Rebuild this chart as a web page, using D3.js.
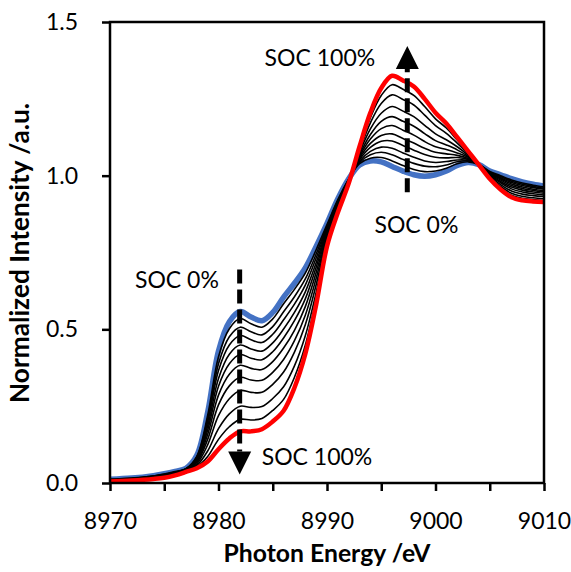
<!DOCTYPE html>
<html><head><meta charset="utf-8">
<script src="https://cdn.jsdelivr.net/npm/d3@7"></script>
<style>body{margin:0;background:#fff}</style>
</head><body>
<svg id="chart" width="571" height="572"></svg>
<script>
// ---- data ----
const energy = [8970,8972,8974,8975,8976,8977,8978,8979,8980,8981,8982,8983,8984,8985,8986,8987,8988,8989,8990,8991,8992,8993,8994,8995,8996,8997,8998,8999,9000,9001,9002,9003,9004,9005,9006,9007,9008,9009,9010];
const soc0 = [0.012,0.016,0.024,0.030,0.038,0.048,0.090,0.230,0.430,0.525,0.558,0.540,0.528,0.555,0.605,0.650,0.700,0.770,0.845,0.925,0.990,1.035,1.048,1.045,1.030,1.015,1.003,0.998,1.003,1.015,1.033,1.043,1.036,1.015,1.003,0.990,0.980,0.972,0.966];
const soc100 = [0.005,0.008,0.013,0.017,0.025,0.036,0.048,0.070,0.110,0.145,0.168,0.168,0.175,0.200,0.235,0.310,0.420,0.580,0.770,0.880,0.975,1.095,1.205,1.285,1.325,1.310,1.290,1.250,1.205,1.170,1.125,1.080,1.035,0.990,0.955,0.930,0.920,0.916,0.914];
const mid1 = [0.012,0.016,0.023,0.029,0.037,0.047,0.087,0.220,0.411,0.502,0.535,0.518,0.507,0.534,0.583,0.630,0.683,0.759,0.841,0.922,0.989,1.039,1.057,1.059,1.048,1.033,1.020,1.013,1.015,1.024,1.039,1.045,1.036,1.014,1.000,0.986,0.976,0.969,0.963];
const mid2 = [0.011,0.015,0.023,0.028,0.036,0.046,0.085,0.209,0.388,0.476,0.507,0.492,0.482,0.509,0.557,0.606,0.664,0.745,0.835,0.919,0.988,1.043,1.068,1.076,1.068,1.053,1.040,1.031,1.029,1.035,1.045,1.048,1.036,1.012,0.997,0.982,0.972,0.965,0.959];
const mid3 = [0.011,0.014,0.022,0.027,0.035,0.046,0.082,0.198,0.366,0.449,0.480,0.466,0.457,0.484,0.531,0.582,0.644,0.732,0.830,0.916,0.987,1.047,1.079,1.093,1.089,1.074,1.060,1.048,1.043,1.046,1.051,1.050,1.036,1.010,0.993,0.978,0.968,0.961,0.956];
const mid4 = [0.010,0.014,0.021,0.026,0.034,0.045,0.078,0.185,0.340,0.419,0.449,0.436,0.429,0.456,0.501,0.555,0.622,0.717,0.824,0.912,0.986,1.052,1.092,1.112,1.113,1.098,1.083,1.069,1.060,1.058,1.059,1.053,1.036,1.008,0.990,0.973,0.963,0.956,0.951];
const mid5 = [0.009,0.013,0.020,0.025,0.033,0.044,0.075,0.172,0.315,0.388,0.418,0.406,0.401,0.427,0.472,0.528,0.599,0.702,0.818,0.909,0.985,1.057,1.105,1.131,1.136,1.121,1.106,1.089,1.076,1.071,1.066,1.056,1.036,1.006,0.986,0.968,0.958,0.952,0.947];
const mid6 = [0.009,0.012,0.019,0.024,0.032,0.043,0.071,0.158,0.286,0.354,0.383,0.373,0.369,0.395,0.439,0.497,0.574,0.685,0.811,0.905,0.983,1.062,1.119,1.153,1.163,1.148,1.132,1.111,1.094,1.085,1.074,1.060,1.036,1.004,0.981,0.963,0.953,0.947,0.943];
const mid7 = [0.008,0.012,0.018,0.023,0.031,0.041,0.067,0.142,0.254,0.316,0.344,0.335,0.334,0.360,0.402,0.463,0.546,0.666,0.804,0.900,0.982,1.068,1.134,1.177,1.192,1.177,1.161,1.137,1.114,1.100,1.084,1.063,1.035,1.001,0.977,0.957,0.947,0.941,0.937];
const mid8 = [0.007,0.011,0.017,0.021,0.029,0.040,0.062,0.124,0.219,0.274,0.301,0.295,0.295,0.321,0.361,0.426,0.515,0.645,0.796,0.895,0.980,1.075,1.152,1.203,1.225,1.210,1.192,1.164,1.136,1.117,1.094,1.067,1.035,0.999,0.971,0.950,0.940,0.935,0.932];
const mid9 = [0.006,0.010,0.015,0.020,0.028,0.039,0.057,0.104,0.177,0.225,0.250,0.246,0.249,0.275,0.313,0.381,0.479,0.620,0.786,0.889,0.978,1.082,1.172,1.235,1.263,1.248,1.230,1.197,1.163,1.138,1.106,1.072,1.035,0.995,0.965,0.943,0.933,0.928,0.925];
const mid10 = [0.006,0.009,0.014,0.018,0.026,0.037,0.052,0.086,0.142,0.183,0.207,0.205,0.210,0.236,0.272,0.344,0.448,0.599,0.778,0.885,0.977,1.089,1.189,1.261,1.296,1.281,1.261,1.225,1.185,1.155,1.116,1.076,1.035,0.993,0.960,0.936,0.926,0.922,0.919];
const intermediates = [mid1,mid2,mid3,mid4,mid5,mid6,mid7,mid8,mid9,mid10];

const xMajorTicks = [8970,8980,8990,9000,9010];
const xMinorTicks = [8975,8985,8995,9005];
const yTicks = [0.0,0.5,1.0,1.5];
const xTitle = "Photon Energy /eV";
const yTitle = "Normalized Intensity /a.u.";

const labelTexts = ["SOC 100%","SOC 0%","SOC 0%","SOC 100%"];
const labelX = [8984.25,8994.37,8972.3,8983.98];
const labelY = [1.376,0.832,0.653,0.0765];

const arrowX = [8981.95,8997.4];
const arrowFrom = [0.695,0.946];
const arrowTo = [0.028,1.422];

// ---- layout ----
const svg = d3.select("#chart");
const L = 110, R = 544, T = 22, B = 483;
const x = d3.scaleLinear().domain([8970,9010]).range([L,R]);
const y = d3.scaleLinear().domain([0,1.5]).range([B,T]);
const FONT = "Lato, 'Open Sans', sans-serif";

const line = d3.line().x((d,i)=>x(energy[i])).y(d=>y(d)).curve(d3.curveCatmullRom.alpha(0.5));

const plot = svg.append("g");
plot.append("path").datum(soc0).attr("d",line).attr("fill","none")
  .attr("stroke","#4472C4").attr("stroke-width",5.5).attr("stroke-linejoin","round");
intermediates.forEach(s=>{
  plot.append("path").datum(s).attr("d",line).attr("fill","none")
    .attr("stroke","#000").attr("stroke-width",1.6).attr("stroke-linejoin","round");
});
plot.append("path").datum(soc100).attr("d",line).attr("fill","none")
  .attr("stroke","#FF0000").attr("stroke-width",4.5).attr("stroke-linejoin","round");

// frame
svg.append("rect").attr("x",L).attr("y",T).attr("width",R-L).attr("height",B-T)
  .attr("fill","none").attr("stroke","#000").attr("stroke-width",2.5);

// x axis
const xAxis = d3.axisBottom(x).tickValues(xMajorTicks.concat(xMinorTicks))
  .tickFormat(d=>xMajorTicks.includes(d)?String(d):"").tickSize(8).tickPadding(22);
const gx = svg.append("g").attr("transform",`translate(0,${B})`).call(xAxis);
gx.select(".domain").remove();
gx.selectAll("line").attr("stroke","#000").attr("stroke-width",2.5);
gx.selectAll("text").attr("font-family",FONT).attr("font-size",23).attr("fill","#000");

// y axis
const yAxis = d3.axisLeft(y).tickValues(yTicks).tickFormat(d3.format(".1f")).tickSize(8).tickPadding(24);
const gy = svg.append("g").attr("transform",`translate(${L},0)`).call(yAxis);
gy.select(".domain").remove();
gy.selectAll("line").attr("stroke","#000").attr("stroke-width",2.5);
gy.selectAll("text").attr("font-family",FONT).attr("font-size",23).attr("fill","#000");

// titles
function fit(sel, target){
  const w = sel.node().getComputedTextLength();
  const fs = parseFloat(sel.attr("font-size"));
  if (w>0) sel.attr("font-size", fs*target/w);
}
const xt = svg.append("text").attr("x",(L+R)/2+0).attr("y",556).attr("text-anchor","middle")
  .attr("dominant-baseline","middle").attr("font-family",FONT).attr("font-weight","bold")
  .attr("font-size",22).text(xTitle);
fit(xt,207);
const yt = svg.append("text").attr("transform",`translate(22,${253}) rotate(-90)`).attr("text-anchor","middle")
  .attr("dominant-baseline","middle").attr("font-family",FONT).attr("font-weight","bold")
  .attr("font-size",22).text(yTitle);
fit(yt,300);

// annotations
labelTexts.forEach((t,i)=>{
  svg.append("text").attr("x",x(labelX[i])).attr("y",y(labelY[i]))
    .attr("dominant-baseline","middle").attr("font-family",FONT).attr("font-size",23)
    .attr("fill","#000").text(t);
});

// arrows
arrowX.forEach((ax,i)=>{
  const px = x(ax), y0 = y(arrowFrom[i]), y1 = y(arrowTo[i]);
  const dir = Math.sign(y1-y0);
  const head = 23, hw = 11.5;
  const baseY = y1 - dir*head;
  svg.append("line").attr("x1",px).attr("x2",px).attr("y1",y0).attr("y2",baseY)
    .attr("stroke","#000").attr("stroke-width",5).attr("stroke-dasharray","14,6");
  svg.append("path").attr("d",`M${px-hw},${baseY}L${px+hw},${baseY}L${px},${y1}Z`).attr("fill","#000");
});
</script>
</body></html>
